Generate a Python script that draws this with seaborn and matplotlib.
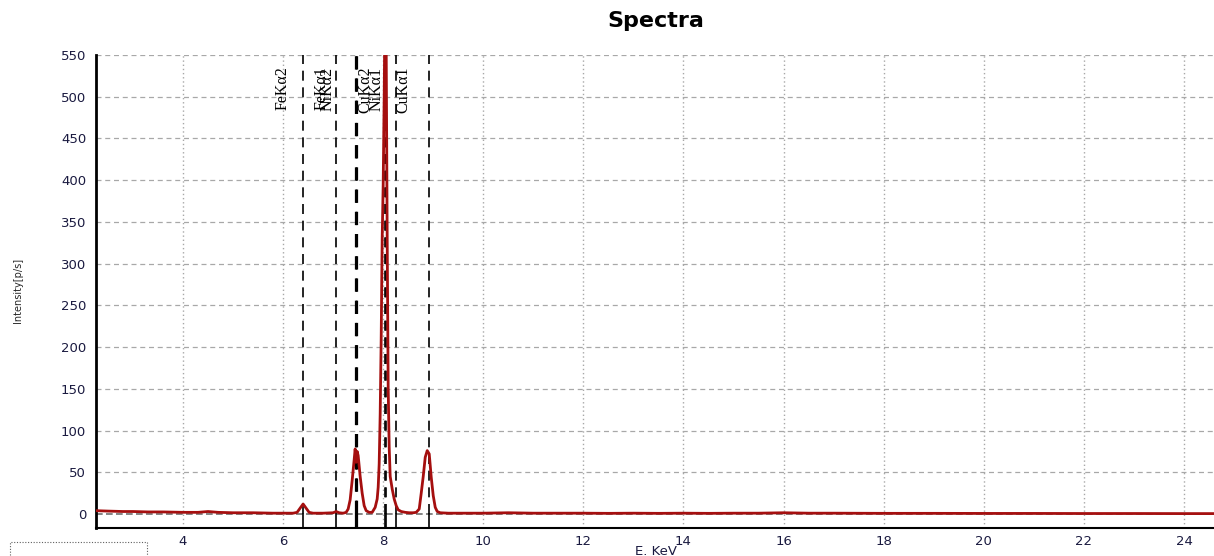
import numpy as np
import pandas as pd
import matplotlib
matplotlib.use("Agg")
import matplotlib.pyplot as plt
import seaborn as sns
from matplotlib.patches import Rectangle

# DATA
# Spectrum points (energy in keV, intensity in p/s)
energy = [
    2.26, 2.5, 2.8, 3.0, 3.3, 3.6, 4.0, 4.3, 4.5, 4.7, 5.0, 5.4, 5.8, 6.0, 6.2,
    6.28, 6.34, 6.40, 6.46, 6.52, 6.60, 6.80, 7.00, 7.06, 7.12,
    7.20, 7.26, 7.30, 7.34, 7.38, 7.42, 7.44, 7.46, 7.48, 7.50, 7.54, 7.58,
    7.62, 7.66, 7.72, 7.78, 7.84, 7.88, 7.90, 7.92, 7.94, 7.96, 7.98, 8.00,
    8.02, 8.04, 8.06, 8.08, 8.10, 8.12, 8.14, 8.18, 8.22, 8.26, 8.30, 8.36,
    8.44, 8.52, 8.60, 8.66, 8.72, 8.76, 8.80, 8.84, 8.88, 8.92, 8.96, 9.00,
    9.04, 9.08, 9.14, 9.30, 9.60, 10.0, 10.5, 11.0, 11.5, 12.0, 12.5, 13.0,
    13.5, 14.0, 14.5, 15.0, 15.5, 16.0, 16.5, 17.0, 18.0, 19.0, 20.0, 21.0,
    22.0, 23.0, 24.0, 24.6,
]
intensity = [
    4, 3.5, 3, 3, 2.5, 2.5, 2, 2, 3, 2, 1.5, 1.5, 1, 1, 1,
    2, 7, 12, 7, 2, 1, 1, 1.5, 3, 1.5,
    1, 2, 6, 17, 40, 65, 78, 62, 75, 70, 45, 25,
    10, 4, 2, 2, 8, 18, 32, 60, 120, 210, 330, 395,
    500, 640, 560, 330, 150, 80, 45, 30, 18, 10, 5, 3,
    2, 1.5, 1.5, 2, 6, 25, 45, 68, 76, 72, 44, 22,
    8, 3, 1.5, 1, 1, 1, 1.5, 1, 1, 1, 0.8, 1,
    0.8, 1, 0.8, 1, 1, 1.5, 1, 1, 0.8, 0.8, 0.7, 0.7,
    0.6, 0.6, 0.5, 0.5,
]

# element line markers (keV)
line_pos = [6.40, 7.06, 7.46, 7.48, 8.03, 8.05, 8.26, 8.91]
line_width = [1.2, 1.2, 1.6, 1.6, 1.2, 1.2, 1.2, 1.2]

# line labels and where they sit on the x axis
label_text = ["FeKα2", "FeKα1", "NiKα2", "CuKα2", "NiKα1", "CuKα1"]
label_pos = [6.00, 6.76, 6.88, 7.64, 7.86, 8.40]

x_ticks = [4, 6, 8, 10, 12, 14, 16, 18, 20, 22, 24]
y_ticks = [0, 50, 100, 150, 200, 250, 300, 350, 400, 450, 500, 550]

df = pd.DataFrame({"energy": energy, "intensity": intensity})

# PLOT
sns.set_style("white")
plt.rcParams["font.family"] = ["DejaVu Sans"]

fig = plt.figure(figsize=(12.14, 5.56), dpi=100)
ax = fig.add_axes([0.079, 0.050, 0.921, 0.851])

ax.set_xlim(2.26, 24.6)
ax.set_ylim(-17, 550)

# grid: dashed horizontal, dotted vertical
for yt in y_ticks[1:]:
    ax.axhline(yt, color="#a8a8a8", linestyle=(0, (4, 3)), linewidth=0.9, zorder=0)
for xt in x_ticks:
    ax.axvline(xt, color="#a8a8a8", linestyle=(0, (1, 2)), linewidth=1.0, zorder=0)
ax.axhline(0, color="#707070", linestyle=(0, (4, 2)), linewidth=1.2, zorder=1)

# element lines: dashed above zero, solid below
for lp, lw in zip(line_pos, line_width):
    ax.plot([lp, lp], [0, 550], color="black", linestyle=(0, (6, 4)),
            linewidth=lw, zorder=2)
    ax.plot([lp, lp], [-17, 0], color="black", linewidth=lw, zorder=2)

sns.lineplot(data=df, x="energy", y="intensity", ax=ax, color="#a50f0f",
             linewidth=2.0, zorder=3)

for txt, lp in zip(label_text, label_pos):
    ax.text(lp, 536, txt, rotation=90, ha="center", va="top",
            fontsize=11.5, family=["Liberation Serif", "DejaVu Serif"],
            color="black", zorder=4)

ax.set_xticks(x_ticks)
ax.set_yticks(y_ticks)
ax.tick_params(axis="both", direction="out", length=4, width=1.5,
               labelsize=9.5, labelcolor="#1a1a40", color="black")
ax.tick_params(axis="x", pad=1)
ax.tick_params(axis="y", pad=3)
ax.set_xlabel("")
ax.set_ylabel("")

for side in ["top", "right"]:
    ax.spines[side].set_visible(False)
ax.spines["left"].set_linewidth(2.0)
ax.spines["bottom"].set_linewidth(1.5)
ax.spines["left"].set_color("black")
ax.spines["bottom"].set_color("black")

fig.text(0.54, 0.962, "Spectra", ha="center", va="center",
         fontsize=16, fontweight="bold", color="black")
fig.text(0.015, 0.478, "Intensity[p/s]", rotation=90, ha="center",
         va="center", fontsize=7)
fig.text(0.54, 0.008, "E. KeV", ha="center", va="center", fontsize=9.5,
         color="#1a1a40")

# leftover legend box in the lower left corner
fig.patches.append(Rectangle((0.008, -0.01), 0.113, 0.035,
                             transform=fig.transFigure, fill=False,
                             edgecolor="#606060", linestyle=(0, (1, 1.5)),
                             linewidth=0.8))

plt.savefig("out.png", dpi=100)
